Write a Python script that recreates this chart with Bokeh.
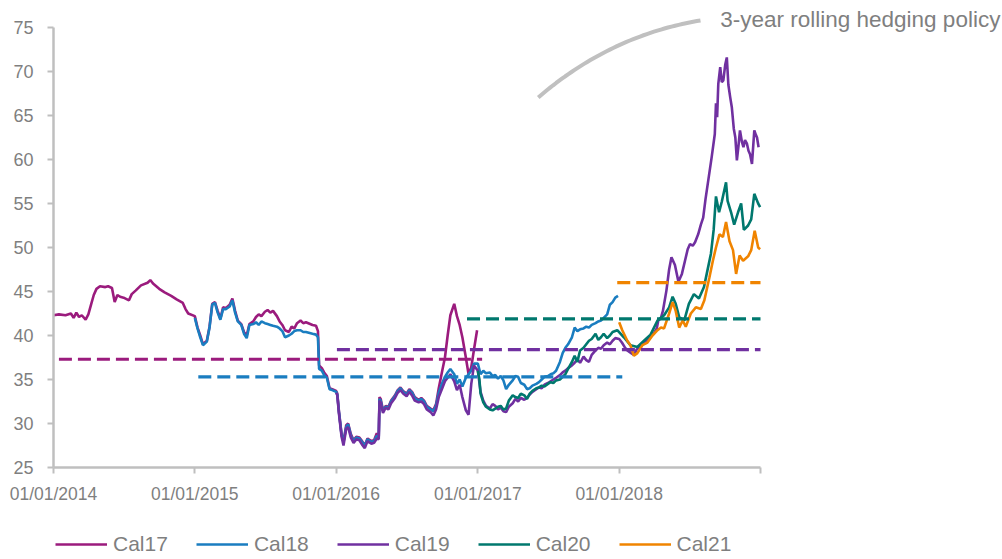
import numpy as np
import pandas as pd
from bokeh.plotting import figure
from bokeh.models import (Range1d, FixedTicker, CustomJSTickFormatter, Legend,
                          LegendItem, Label)
from bokeh.embed import file_html
from bokeh.resources import INLINE

FONT = "Liberation Sans"
GREY_TXT = "#7f7f7f"
AXIS_COL = "#bfbfbf"

# ---------------- data ----------------
series_names = ["Cal17", "Cal18", "Cal19", "Cal20", "Cal21"]
series_colors = ["#9b1b7d", "#1a7dc0", "#7030a0", "#00786e", "#f08400"]

cal17_dates = [
    "2014-01-01", "2014-01-15", "2014-02-01", "2014-02-15", "2014-02-22", "2014-03-01", "2014-03-08",
    "2014-03-15", "2014-03-25", "2014-04-01", "2014-04-08", "2014-04-15", "2014-04-22", "2014-05-01",
    "2014-05-15", "2014-05-22", "2014-06-01", "2014-06-08", "2014-06-15", "2014-06-22", "2014-07-01",
    "2014-07-15", "2014-07-22", "2014-08-01", "2014-08-15", "2014-09-01", "2014-09-08", "2014-09-15",
    "2014-10-01", "2014-10-15", "2014-11-01", "2014-11-15", "2014-12-01", "2014-12-08", "2014-12-15",
    "2015-01-01", "2015-01-08", "2015-01-15", "2015-01-22", "2015-02-01", "2015-02-08", "2015-02-15",
    "2015-02-22", "2015-03-01", "2015-03-08", "2015-03-15", "2015-03-22", "2015-04-01", "2015-04-08",
    "2015-04-15", "2015-04-22", "2015-05-01", "2015-05-08", "2015-05-15", "2015-05-22", "2015-06-01",
    "2015-06-08", "2015-06-15", "2015-06-22", "2015-07-01", "2015-07-08", "2015-07-15", "2015-07-22",
    "2015-08-01", "2015-08-08", "2015-08-15", "2015-08-22", "2015-09-01", "2015-09-08", "2015-09-15",
    "2015-09-22", "2015-10-01", "2015-10-08", "2015-10-15", "2015-11-01", "2015-11-10", "2015-11-15",
    "2015-11-18", "2015-11-25", "2015-12-01", "2015-12-08", "2015-12-15", "2015-12-22",
    "2016-01-01", "2016-01-04", "2016-01-08", "2016-01-15", "2016-01-20", "2016-01-27", "2016-02-01",
    "2016-02-08", "2016-02-15", "2016-02-22", "2016-03-01", "2016-03-08", "2016-03-15", "2016-03-22",
    "2016-04-01", "2016-04-08", "2016-04-15", "2016-04-20", "2016-04-22", "2016-04-25", "2016-05-01",
    "2016-05-08", "2016-05-15", "2016-05-22", "2016-06-01", "2016-06-08", "2016-06-15", "2016-06-22",
    "2016-07-01", "2016-07-08", "2016-07-15", "2016-07-22", "2016-08-01", "2016-08-08", "2016-08-15",
    "2016-08-22", "2016-09-01", "2016-09-08", "2016-09-15", "2016-09-22", "2016-10-01", "2016-10-08",
    "2016-10-15", "2016-10-22", "2016-11-01", "2016-11-08", "2016-11-15", "2016-11-22", "2016-12-01",
    "2016-12-08", "2016-12-15", "2016-12-22", "2016-12-30",
]
cal17_values = [
    42.3, 42.4, 42.3, 42.5, 42.0, 42.6, 42.1,
    42.3, 41.8, 42.4, 43.5, 44.6, 45.3, 45.6,
    45.5, 45.6, 45.4, 43.8, 44.6, 44.4, 44.3,
    44.0, 44.7, 45.1, 45.7, 46.0, 46.3, 45.9,
    45.3, 44.9, 44.5, 44.1, 43.7, 43.0, 42.5,
    42.2, 40.9, 40.0, 39.0, 39.4, 41.0, 43.6,
    43.8, 42.8, 41.9, 43.2, 43.1, 43.5, 44.2,
    42.8, 41.7, 41.3, 40.4, 40.0, 41.3, 41.6,
    42.1, 42.4, 42.2, 42.7, 42.9, 42.6, 42.8,
    42.2, 41.6, 41.2, 40.6, 40.4, 41.0, 40.8,
    41.4, 41.7, 41.4, 41.5, 41.2, 41.1, 40.5,
    36.6, 36.3, 35.8, 35.4, 34.0, 33.9,
    33.7, 33.4, 31.5, 28.8, 27.9, 29.8, 30.0,
    28.8, 28.1, 28.5, 28.4, 28.0, 27.5, 28.3,
    28.0, 28.1, 28.9, 28.5, 33.0, 32.8, 31.5,
    32.0, 31.9, 32.6, 33.2, 33.8, 34.1, 33.7,
    33.4, 33.9, 33.6, 33.0, 32.7, 32.9, 32.6,
    32.0, 31.7, 31.5, 32.2, 34.0, 36.0, 37.5,
    40.0, 42.3, 43.6, 42.2, 41.2, 39.8, 37.5,
    35.6, 36.4, 38.4, 40.6,
]

cal18_dates = [
    "2015-01-01", "2015-01-08", "2015-01-15", "2015-01-22", "2015-02-01", "2015-02-08", "2015-02-15",
    "2015-02-22", "2015-03-01", "2015-03-08", "2015-03-15", "2015-03-22", "2015-04-01", "2015-04-08",
    "2015-04-15", "2015-04-22", "2015-05-01", "2015-05-08", "2015-05-15", "2015-05-22", "2015-06-01",
    "2015-06-08", "2015-06-15", "2015-06-22", "2015-07-01", "2015-07-08", "2015-07-15", "2015-07-22",
    "2015-08-01", "2015-08-08", "2015-08-15", "2015-08-22", "2015-09-01", "2015-09-08", "2015-09-15",
    "2015-09-22", "2015-10-01", "2015-10-08", "2015-10-15", "2015-11-01", "2015-11-10", "2015-11-15",
    "2015-11-18", "2015-11-25", "2015-12-01", "2015-12-08", "2015-12-15", "2015-12-22",
    "2016-01-01", "2016-01-04", "2016-01-08", "2016-01-15", "2016-01-20", "2016-01-27", "2016-02-01",
    "2016-02-08", "2016-02-15", "2016-02-22", "2016-03-01", "2016-03-08", "2016-03-15", "2016-03-22",
    "2016-04-01", "2016-04-08", "2016-04-15", "2016-04-20", "2016-04-22", "2016-04-25", "2016-05-01",
    "2016-05-08", "2016-05-15", "2016-05-22", "2016-06-01", "2016-06-08", "2016-06-15", "2016-06-22",
    "2016-07-01", "2016-07-08", "2016-07-15", "2016-07-22", "2016-08-01", "2016-08-08", "2016-08-15",
    "2016-08-22", "2016-09-01", "2016-09-08", "2016-09-15", "2016-09-22", "2016-10-01", "2016-10-08",
    "2016-10-15", "2016-10-22", "2016-11-01", "2016-11-08", "2016-11-15", "2016-11-22", "2016-12-01",
    "2016-12-08", "2016-12-15", "2016-12-22",
    "2017-01-01", "2017-01-08", "2017-01-15", "2017-01-22", "2017-02-01", "2017-02-08", "2017-02-15",
    "2017-02-22", "2017-03-01", "2017-03-08", "2017-03-15", "2017-03-22", "2017-04-01", "2017-04-08",
    "2017-04-15", "2017-04-22", "2017-05-01", "2017-05-08", "2017-05-15", "2017-05-22", "2017-06-01",
    "2017-06-08", "2017-06-15", "2017-06-22", "2017-07-01", "2017-07-08", "2017-07-15", "2017-07-22",
    "2017-08-01", "2017-08-08", "2017-08-15", "2017-08-22", "2017-09-01", "2017-09-08", "2017-09-15",
    "2017-09-22", "2017-10-01", "2017-10-08", "2017-10-15", "2017-10-22", "2017-11-01", "2017-11-08",
    "2017-11-15", "2017-11-22", "2017-12-01", "2017-12-08", "2017-12-15", "2017-12-22", "2017-12-29",
]
cal18_values = [
    42.0, 40.8, 39.8, 38.9, 39.3, 40.9, 43.5,
    43.7, 42.6, 41.8, 43.0, 43.0, 43.3, 44.0,
    42.6, 41.6, 41.2, 40.2, 39.7, 41.2, 41.3,
    41.5, 41.2, 41.6, 41.4, 41.3, 41.2, 41.1,
    41.0, 40.8, 40.5, 39.8, 40.0, 40.2, 40.5,
    40.6, 40.6, 40.4, 40.4, 40.2, 40.1, 39.8,
    36.2, 36.0, 35.5, 35.2, 33.9, 33.8,
    33.6, 33.3, 31.4, 28.7, 27.9, 29.6, 29.9,
    28.6, 28.0, 28.4, 28.3, 27.9, 27.5, 28.2,
    27.9, 28.0, 28.6, 28.4, 32.8, 32.6, 31.4,
    31.9, 31.8, 32.5, 33.1, 33.7, 34.0, 33.6,
    33.3, 33.8, 33.5, 32.9, 32.6, 32.8, 32.5,
    31.9, 31.6, 31.4, 32.0, 33.5, 34.6, 35.3,
    35.8, 36.2, 35.6, 34.5, 35.0, 34.2, 35.2,
    35.6, 36.0, 36.8,
    36.8, 35.6, 36.0, 35.7, 35.8, 35.4, 35.5,
    35.1, 35.4, 34.9, 33.9, 34.4, 34.9, 35.4,
    35.3, 34.6, 34.4, 33.9, 34.0, 34.3, 34.5,
    34.7, 35.0, 35.3, 35.4, 35.6, 35.7, 36.0,
    37.0, 38.0, 38.6, 39.0, 39.8, 40.9, 40.5,
    40.7, 40.8, 41.0, 40.9, 41.2, 41.4, 41.6,
    41.7, 42.0, 42.4, 43.5, 43.8, 44.3, 44.5,
]

cal19_dates = [
    "2016-01-01", "2016-01-04", "2016-01-08", "2016-01-15", "2016-01-20", "2016-01-27", "2016-02-01",
    "2016-02-08", "2016-02-15", "2016-02-22", "2016-03-01", "2016-03-08", "2016-03-15", "2016-03-22",
    "2016-04-01", "2016-04-08", "2016-04-15", "2016-04-20", "2016-04-22", "2016-04-25", "2016-05-01",
    "2016-05-08", "2016-05-15", "2016-05-22", "2016-06-01", "2016-06-08", "2016-06-15", "2016-06-22",
    "2016-07-01", "2016-07-08", "2016-07-15", "2016-07-22", "2016-08-01", "2016-08-08", "2016-08-15",
    "2016-08-22", "2016-09-01", "2016-09-08", "2016-09-15", "2016-09-22", "2016-10-01", "2016-10-08",
    "2016-10-15", "2016-10-22", "2016-11-01", "2016-11-08", "2016-11-15", "2016-11-22", "2016-12-01",
    "2016-12-08", "2016-12-15", "2016-12-22",
    "2017-01-01", "2017-01-08", "2017-01-15", "2017-01-22", "2017-02-01", "2017-02-08", "2017-02-15",
    "2017-02-22", "2017-03-01", "2017-03-08", "2017-03-15", "2017-03-22", "2017-04-01", "2017-04-08",
    "2017-04-15", "2017-04-22", "2017-05-01", "2017-05-08", "2017-05-15", "2017-05-22", "2017-06-01",
    "2017-06-08", "2017-06-15", "2017-06-22", "2017-07-01", "2017-07-08", "2017-07-15", "2017-07-22",
    "2017-08-01", "2017-08-08", "2017-08-15", "2017-08-22", "2017-09-01", "2017-09-08", "2017-09-15",
    "2017-09-22", "2017-10-01", "2017-10-08", "2017-10-15", "2017-10-22", "2017-11-01", "2017-11-08",
    "2017-11-15", "2017-11-22", "2017-12-01", "2017-12-08", "2017-12-15", "2017-12-22",
    "2018-01-01", "2018-01-08", "2018-01-15", "2018-01-22", "2018-02-01", "2018-02-08", "2018-02-15",
    "2018-02-22", "2018-03-01", "2018-03-08", "2018-03-15", "2018-03-22", "2018-04-01", "2018-04-08",
    "2018-04-12", "2018-04-18", "2018-04-24", "2018-05-03", "2018-05-10", "2018-05-16", "2018-05-25",
    "2018-06-03", "2018-06-12", "2018-06-20", "2018-06-27", "2018-07-03", "2018-07-10", "2018-07-16",
    "2018-07-24", "2018-07-31", "2018-08-06", "2018-08-12", "2018-08-19", "2018-08-28", "2018-09-05",
    "2018-09-08", "2018-09-11", "2018-09-14", "2018-09-19", "2018-09-23", "2018-09-27", "2018-10-02",
    "2018-10-06", "2018-10-10", "2018-10-15", "2018-10-19", "2018-10-24", "2018-10-28", "2018-11-01",
    "2018-11-05", "2018-11-09", "2018-11-14", "2018-11-18", "2018-11-22", "2018-11-27", "2018-12-01",
    "2018-12-05", "2018-12-10", "2018-12-16", "2018-12-20", "2018-12-23", "2018-12-27",
]
cal19_values = [
    33.5, 33.2, 31.2, 28.5, 27.5, 29.4, 29.6,
    28.4, 27.8, 28.2, 28.1, 27.6, 27.2, 28.0,
    27.7, 27.8, 28.3, 28.2, 32.6, 32.4, 31.2,
    31.8, 31.6, 32.3, 32.9, 33.5, 33.8, 33.4,
    33.1, 33.6, 33.2, 32.6, 32.4, 32.5, 32.2,
    31.6, 31.3, 30.9, 31.6, 33.0, 34.0, 34.8,
    35.2, 35.6, 34.8, 33.8, 34.4, 33.0, 31.5,
    31.0, 34.5, 36.6,
    36.0, 33.6, 32.6, 32.0, 31.7, 32.2, 32.0,
    31.6, 31.8, 31.4, 31.3, 31.9, 32.3, 32.8,
    32.5, 32.9, 32.7, 32.9, 33.3, 33.6, 33.9,
    34.1, 34.0, 34.4, 34.6, 34.8, 35.0, 35.2,
    35.5, 35.8, 36.0, 36.3, 36.6, 36.9, 37.3,
    36.9, 37.6, 37.2, 37.0, 37.8, 38.3, 38.6,
    38.5, 38.9, 39.2, 39.0, 39.4, 39.7,
    39.6, 39.2, 38.7, 38.3, 38.0, 37.8, 38.4,
    38.7, 38.9, 39.3, 39.5, 40.0, 40.3, 40.8,
    41.7, 41.9, 42.8, 45.1, 47.5, 48.9, 48.0,
    46.1, 47.0, 48.5, 49.8, 50.4, 50.2, 50.6,
    51.5, 52.6, 53.4, 55.5, 57.6, 60.3, 62.9,
    66.4, 64.8, 68.6, 70.5, 68.8, 69.0, 70.8,
    71.6, 68.5, 67.0, 65.9, 63.5, 62.5, 59.9,
    61.5, 63.3, 62.0, 61.4, 62.2, 61.8, 61.0,
    60.6, 59.5, 63.3, 62.8, 62.5, 61.4,
]

cal20_dates = [
    "2017-01-01", "2017-01-05", "2017-01-08", "2017-01-15", "2017-01-22", "2017-02-01", "2017-02-08",
    "2017-02-15", "2017-02-22", "2017-03-01", "2017-03-08", "2017-03-15", "2017-03-22", "2017-04-01",
    "2017-04-08", "2017-04-15", "2017-04-22", "2017-05-01", "2017-05-08", "2017-05-15", "2017-05-22",
    "2017-06-01", "2017-06-08", "2017-06-15", "2017-06-22", "2017-07-01", "2017-07-08", "2017-07-15",
    "2017-07-22", "2017-08-01", "2017-08-08", "2017-08-15", "2017-08-22", "2017-09-01", "2017-09-08",
    "2017-09-15", "2017-09-22", "2017-10-01", "2017-10-08", "2017-10-15", "2017-10-22", "2017-11-01",
    "2017-11-08", "2017-11-15", "2017-11-22", "2017-12-01", "2017-12-08", "2017-12-15", "2017-12-27",
    "2018-01-13", "2018-01-30", "2018-02-17", "2018-03-06", "2018-03-23", "2018-04-10", "2018-04-27",
    "2018-05-10", "2018-05-19", "2018-05-27", "2018-06-05", "2018-06-18", "2018-06-30", "2018-07-13",
    "2018-07-26", "2018-08-08", "2018-08-17", "2018-08-26", "2018-09-02", "2018-09-08", "2018-09-16",
    "2018-09-23", "2018-10-04", "2018-10-08", "2018-10-17", "2018-10-25", "2018-11-04", "2018-11-12",
    "2018-11-19", "2018-11-30", "2018-12-08", "2018-12-16", "2018-12-26", "2018-12-31",
]
cal20_values = [
    36.0, 35.0, 33.4, 32.4, 31.9, 31.6, 31.5,
    31.7, 31.9, 32.0, 31.6, 31.7, 32.6, 33.2,
    33.0, 32.9, 33.4, 33.2, 32.8, 33.4, 33.7,
    34.0, 34.1, 34.3, 34.2, 34.5, 34.7, 34.6,
    34.9, 35.0, 35.3, 35.6, 36.2, 37.0, 37.7,
    37.0, 38.3, 38.6, 39.0, 39.4, 39.6, 40.2,
    39.5, 39.8, 40.2, 39.7, 40.0, 40.4, 40.6,
    39.8, 38.9, 38.7, 39.4, 40.1, 41.7, 42.3,
    43.2, 44.4, 43.6, 42.1, 41.7, 43.6, 44.7,
    44.2, 45.5, 47.4, 49.3, 52.0, 55.8, 54.0,
    55.2, 57.4, 55.3, 54.0, 52.6, 54.0, 55.0,
    52.0, 52.5, 53.2, 56.1, 55.0, 54.6,
]

cal21_dates = [
    "2018-01-01", "2018-01-09", "2018-01-22", "2018-01-30", "2018-02-08", "2018-02-17", "2018-03-02",
    "2018-03-15", "2018-03-28", "2018-04-10", "2018-04-19", "2018-04-27", "2018-05-10", "2018-05-19",
    "2018-05-27", "2018-06-05", "2018-06-14", "2018-06-22", "2018-07-05", "2018-07-18", "2018-07-31",
    "2018-08-09", "2018-08-22", "2018-08-31", "2018-09-08", "2018-09-17", "2018-09-26", "2018-10-04",
    "2018-10-13", "2018-10-22", "2018-10-30", "2018-11-08", "2018-11-17", "2018-11-30", "2018-12-08",
    "2018-12-17", "2018-12-26", "2018-12-31",
]
cal21_values = [
    41.5, 40.6, 39.4, 38.9, 37.7, 38.0, 38.9,
    39.2, 40.0, 40.6, 40.9, 40.8, 42.5, 43.8,
    42.8, 40.9, 41.7, 41.0, 42.5, 43.2, 43.0,
    44.0, 46.6, 48.5, 50.0, 51.5, 51.2, 52.9,
    50.7, 49.7, 47.0, 49.1, 48.5, 49.0, 49.7,
    51.9, 50.0, 49.8,
]

# hedging policy levels (dashed lines)
policy_levels = [37.3, 35.3, 38.4, 41.9, 46.0]
policy_start = ["2014-01-15", "2015-01-10", "2016-01-03", "2016-12-04", "2017-12-27"]
policy_end = ["2017-01-12", "2018-01-09", "2019-01-01", "2019-01-01", "2019-01-01"]

x_ticks = ["2014-01-01", "2015-01-01", "2016-01-01", "2017-01-01", "2018-01-01", "2019-01-01"]
y_ticks = [25, 30, 35, 40, 45, 50, 55, 60, 65, 70, 75]

annotation_text = "3-year rolling hedging policy"
annotation_pos = ("2018-09-19", 75.9)
curve_ctrl_dates = ["2017-06-06", "2017-12-09", "2018-07-30"]
curve_ctrl_vals = [67.05, 74.1, 75.8]


def ms(d):
    return pd.Timestamp(d).value / 1e6


all_dates = [cal17_dates, cal18_dates, cal19_dates, cal20_dates, cal21_dates]
all_values = [cal17_values, cal18_values, cal19_values, cal20_values, cal21_values]

# ---------------- layout ----------------
# The frame covers the whole canvas; the axes are pinned (fixed_location) at the
# pixel positions of the reference, so annotations and the legend are not clipped.
W, H = 1002, 559
AX_LEFT, AX_RIGHT, AX_TOP75, AX_BOTTOM = 53, 760, 27, 467  # pixel positions
x0, x1 = ms(x_ticks[0]), ms(x_ticks[-1])
px_per_ms = (AX_RIGHT - AX_LEFT) / (x1 - x0)
x_start = x0 - AX_LEFT / px_per_ms
x_end = x1 + (W - AX_RIGHT) / px_per_ms
px_per_unit = (AX_BOTTOM - AX_TOP75) / (75 - 25)
y_start = 25 - (H - AX_BOTTOM) / px_per_unit
y_end = 75 + AX_TOP75 / px_per_unit

p = figure(width=W, height=H, output_backend="svg", toolbar_location=None,
           x_axis_type="datetime",
           x_range=Range1d(x_start, x_end), y_range=Range1d(y_start, y_end),
           min_border=0, min_border_left=0, min_border_right=0,
           min_border_top=0, min_border_bottom=0)
p.outline_line_color = None
p.grid.visible = False
p.background_fill_color = "white"
p.border_fill_color = "white"

renderers = []
for d, v, c in zip(all_dates, all_values, series_colors):
    r = p.line([ms(x) for x in d], v, line_color=c, line_width=2.6)
    renderers.append(r)

for lvl, s, e, c in zip(policy_levels, policy_start, policy_end, series_colors):
    p.line([ms(s), ms(e)], [lvl, lvl], line_color=c, line_width=3.2, line_dash="13 6")

# annotation curve (quadratic bezier from control points)
cx = [ms(d) for d in curve_ctrl_dates]
cy = curve_ctrl_vals
t = np.linspace(0, 1, 50)
bx = (1 - t) ** 2 * cx[0] + 2 * (1 - t) * t * cx[1] + t ** 2 * cx[2]
by = (1 - t) ** 2 * cy[0] + 2 * (1 - t) * t * cy[1] + t ** 2 * cy[2]
p.line(bx, by, line_color="#c0c0c0", line_width=4)

lab = Label(x=ms(annotation_pos[0]), y=annotation_pos[1], text=annotation_text,
            text_font=FONT, text_font_size="22.5px", text_color=GREY_TXT,
            text_baseline="alphabetic")
p.add_layout(lab)

# axes
for ax in (p.xaxis, p.yaxis):
    ax.axis_line_color = AXIS_COL
    ax.axis_line_width = 2.5
    ax.major_tick_line_color = AXIS_COL
    ax.major_tick_line_width = 2
    ax.major_tick_in = 0
    ax.major_tick_out = 6
    ax.minor_tick_line_color = None
    ax.major_label_text_color = GREY_TXT
    ax.major_label_text_font = FONT

p.xaxis.bounds = (x0, x1)
p.yaxis.bounds = (25, 75)
p.xaxis.fixed_location = 25
p.yaxis.fixed_location = x0

p.xaxis.ticker = FixedTicker(ticks=[ms(t_) for t_ in x_ticks])
p.xaxis.formatter = CustomJSTickFormatter(code="""
const d = new Date(tick);
const y = d.getUTCFullYear();
if (y >= 2019) return '';
return '01/01/' + y;
""")
p.xaxis.major_label_text_font_size = "17.5px"
p.xaxis.major_label_standoff = 10

p.yaxis.ticker = FixedTicker(ticks=y_ticks)
p.yaxis.major_label_text_font_size = "18px"
p.yaxis.major_label_standoff = 14

# legend
items = [LegendItem(label=n, renderers=[r]) for n, r in zip(series_names, renderers)]
legend = Legend(items=items, orientation="horizontal", location=(55, 3),
                glyph_width=52, glyph_height=20, label_standoff=6, spacing=28,
                padding=0, margin=0, border_line_color=None, background_fill_alpha=0,
                label_text_font=FONT, label_text_font_size="21px",
                label_text_color=GREY_TXT)
p.add_layout(legend, "center")

open("out.html", "w").write(file_html(p, INLINE))
